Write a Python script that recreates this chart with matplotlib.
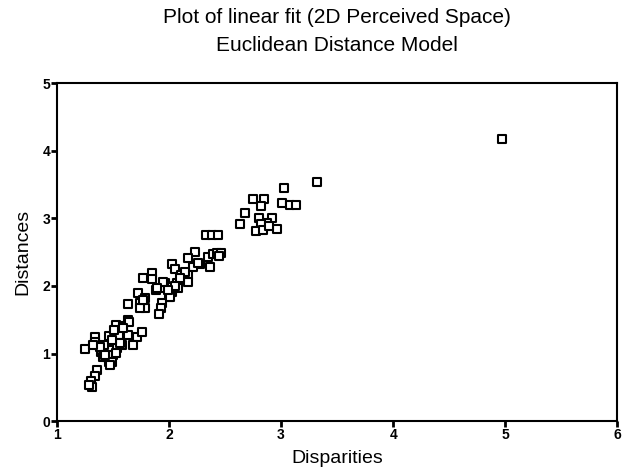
import matplotlib
matplotlib.use("Agg")
import matplotlib.pyplot as plt

# disparities vs distances
disparities = [3.32, 3.03, 2.75, 2.85, 2.82, 3.01, 3.08, 3.13, 2.68, 2.63,
               2.80, 2.92, 2.87, 2.82, 2.78, 2.84, 2.96, 2.89, 2.33, 2.38,
               2.44, 2.35, 2.39, 2.43, 2.46, 2.45, 2.37, 2.23, 2.17, 2.28,
               2.21, 2.03, 2.05, 2.11, 1.85, 1.85, 1.77, 1.96, 1.88, 1.96,
               2.03, 2.08, 2.00, 1.94, 1.93, 1.91, 1.72, 1.79, 1.74, 1.79,
               1.74, 1.63, 1.63, 1.53, 1.59, 1.55, 1.63, 1.71, 1.76, 1.68,
               1.34, 1.46, 1.25, 1.39, 1.47, 1.54, 1.58, 1.45, 1.50, 1.46,
               1.49, 1.36, 1.34, 1.30, 1.31, 1.64, 1.34, 1.56, 1.41, 1.29,
               2.17, 2.13, 2.07, 2.17, 1.95, 1.89, 2.03, 2.08, 2.01, 1.77,
               1.59, 2.26, 2.14, 2.10, 2.05, 1.99, 1.42, 1.49, 1.38, 1.53,
               1.32, 1.51, 1.43, 1.47, 4.97]
distances = [3.54, 3.45, 3.28, 3.28, 3.18, 3.22, 3.20, 3.20, 3.08, 2.91,
             3.00, 3.00, 2.93, 2.91, 2.81, 2.83, 2.84, 2.88, 2.75, 2.75,
             2.75, 2.43, 2.47, 2.49, 2.49, 2.44, 2.28, 2.50, 2.41, 2.32,
             2.28, 2.32, 2.25, 2.16, 2.19, 2.10, 2.12, 2.04, 1.94, 1.97,
             1.98, 2.03, 1.83, 1.75, 1.67, 1.58, 1.89, 1.82, 1.75, 1.67,
             1.67, 1.73, 1.49, 1.42, 1.40, 1.27, 1.27, 1.24, 1.32, 1.12,
             1.24, 1.26, 1.07, 1.02, 1.05, 1.08, 1.12, 0.95, 0.98, 0.87,
             0.87, 0.75, 0.67, 0.59, 0.50, 1.46, 1.17, 1.15, 0.95, 0.53,
             2.16, 2.09, 2.04, 2.06, 2.06, 1.97, 1.91, 1.97, 1.83, 1.79,
             1.38, 2.34, 2.20, 2.12, 2.00, 1.94, 1.12, 1.20, 1.09, 1.01,
             1.12, 1.35, 0.98, 0.83, 4.17]

xticks = [1, 2, 3, 4, 5, 6]
yticks = [0, 1, 2, 3, 4, 5]

plt.rcParams['font.family'] = ['Liberation Sans', 'DejaVu Sans']

fig = plt.figure(figsize=(6.26, 4.70), dpi=100)
ax = fig.add_axes([0.091, 0.104, 0.895, 0.719])

ax.scatter(disparities, distances, marker='s', s=28, facecolors='white',
           edgecolors='black', linewidths=1.5, zorder=3)

ax.set_xlim(1, 6)
ax.set_ylim(0, 5)
ax.set_xticks(xticks)
ax.set_yticks(yticks)
ax.tick_params(direction='out', length=4, width=2, labelsize=10, pad=1)
for lab in ax.get_xticklabels() + ax.get_yticklabels():
    lab.set_fontweight('bold')
for sp in ax.spines.values():
    sp.set_linewidth(1.5)

ax.set_xlabel('Disparities', fontsize=14, labelpad=6)
ax.set_ylabel('Distances', fontsize=14, labelpad=8)

fig.text(0.538, 0.962, 'Plot of linear fit (2D Perceived Space)', ha='center',
         va='center', fontsize=15)
fig.text(0.538, 0.904, 'Euclidean Distance Model', ha='center', va='center',
         fontsize=15)

fig.savefig('out.png', dpi=100)
